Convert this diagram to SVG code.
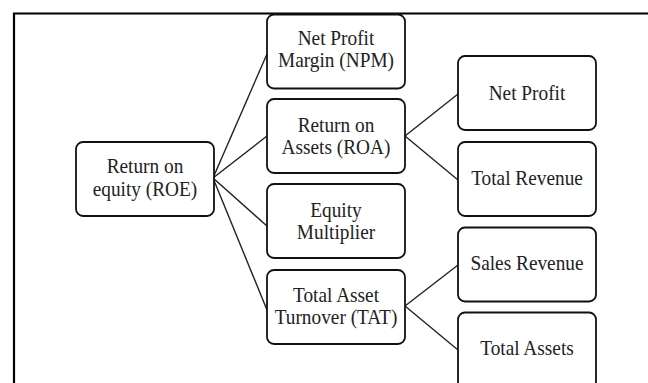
<svg xmlns="http://www.w3.org/2000/svg" width="648" height="383" viewBox="0 0 648 383">
<style>
.box{fill:#fff;stroke:#111;stroke-width:1.8}
.t{font-family:"Liberation Serif","Times New Roman",serif;font-size:21px;fill:#222;text-anchor:middle}
.c{stroke:#222;stroke-width:1.4;fill:none}
.f{stroke:#000;stroke-width:2.2;fill:none}
</style>
<rect width="648" height="383" fill="#fff"/>
<path class="f" d="M14 383 V13.5 H648"/>
<g id="connectors">
<line class="c" x1="213" y1="178" x2="267" y2="54"/>
<line class="c" x1="213" y1="178" x2="267" y2="136"/>
<line class="c" x1="213" y1="178" x2="267" y2="226"/>
<line class="c" x1="213" y1="178" x2="267" y2="310"/>
<line class="c" x1="405" y1="136" x2="458" y2="94"/>
<line class="c" x1="405" y1="136" x2="458" y2="180"/>
<line class="c" x1="405" y1="306" x2="458" y2="265"/>
<line class="c" x1="405" y1="306" x2="458" y2="350"/>
</g>
<g id="roe"><rect class="box" x="76" y="142" width="138" height="74" rx="7"/>
<text class="t" transform="translate(145 173) scale(0.92 1)">Return on</text><text class="t" transform="translate(145 195.5) scale(0.92 1)">equity (ROE)</text></g>
<g id="npm"><rect class="box" x="267" y="14.5" width="138" height="74" rx="7"/>
<text class="t" transform="translate(336 45) scale(0.92 1)">Net Profit</text><text class="t" transform="translate(336 67) scale(0.92 1)">Margin (NPM)</text></g>
<g id="roa"><rect class="box" x="267" y="99" width="138" height="74" rx="7"/>
<text class="t" transform="translate(336 131.5) scale(0.92 1)">Return on</text><text class="t" transform="translate(336 154) scale(0.92 1)">Assets (ROA)</text></g>
<g id="em"><rect class="box" x="267" y="184" width="138" height="74" rx="7"/>
<text class="t" transform="translate(336 216.5) scale(0.92 1)">Equity</text><text class="t" transform="translate(336 239) scale(0.92 1)">Multiplier</text></g>
<g id="tat"><rect class="box" x="267" y="270" width="138" height="74" rx="7"/>
<text class="t" transform="translate(336 301.5) scale(0.92 1)">Total Asset</text><text class="t" transform="translate(336 324) scale(0.92 1)">Turnover (TAT)</text></g>
<g id="np"><rect class="box" x="458" y="56" width="138" height="74" rx="7"/>
<text class="t" transform="translate(527 100) scale(0.92 1)">Net Profit</text></g>
<g id="tr"><rect class="box" x="458" y="142" width="138" height="74" rx="7"/>
<text class="t" transform="translate(527 185) scale(0.92 1)">Total Revenue</text></g>
<g id="sr"><rect class="box" x="458" y="227.5" width="138" height="74" rx="7"/>
<text class="t" transform="translate(527 270) scale(0.92 1)">Sales Revenue</text></g>
<g id="ta"><rect class="box" x="458" y="312.5" width="138" height="76" rx="7"/>
<text class="t" transform="translate(527 355) scale(0.92 1)">Total Assets</text></g>
</svg>
